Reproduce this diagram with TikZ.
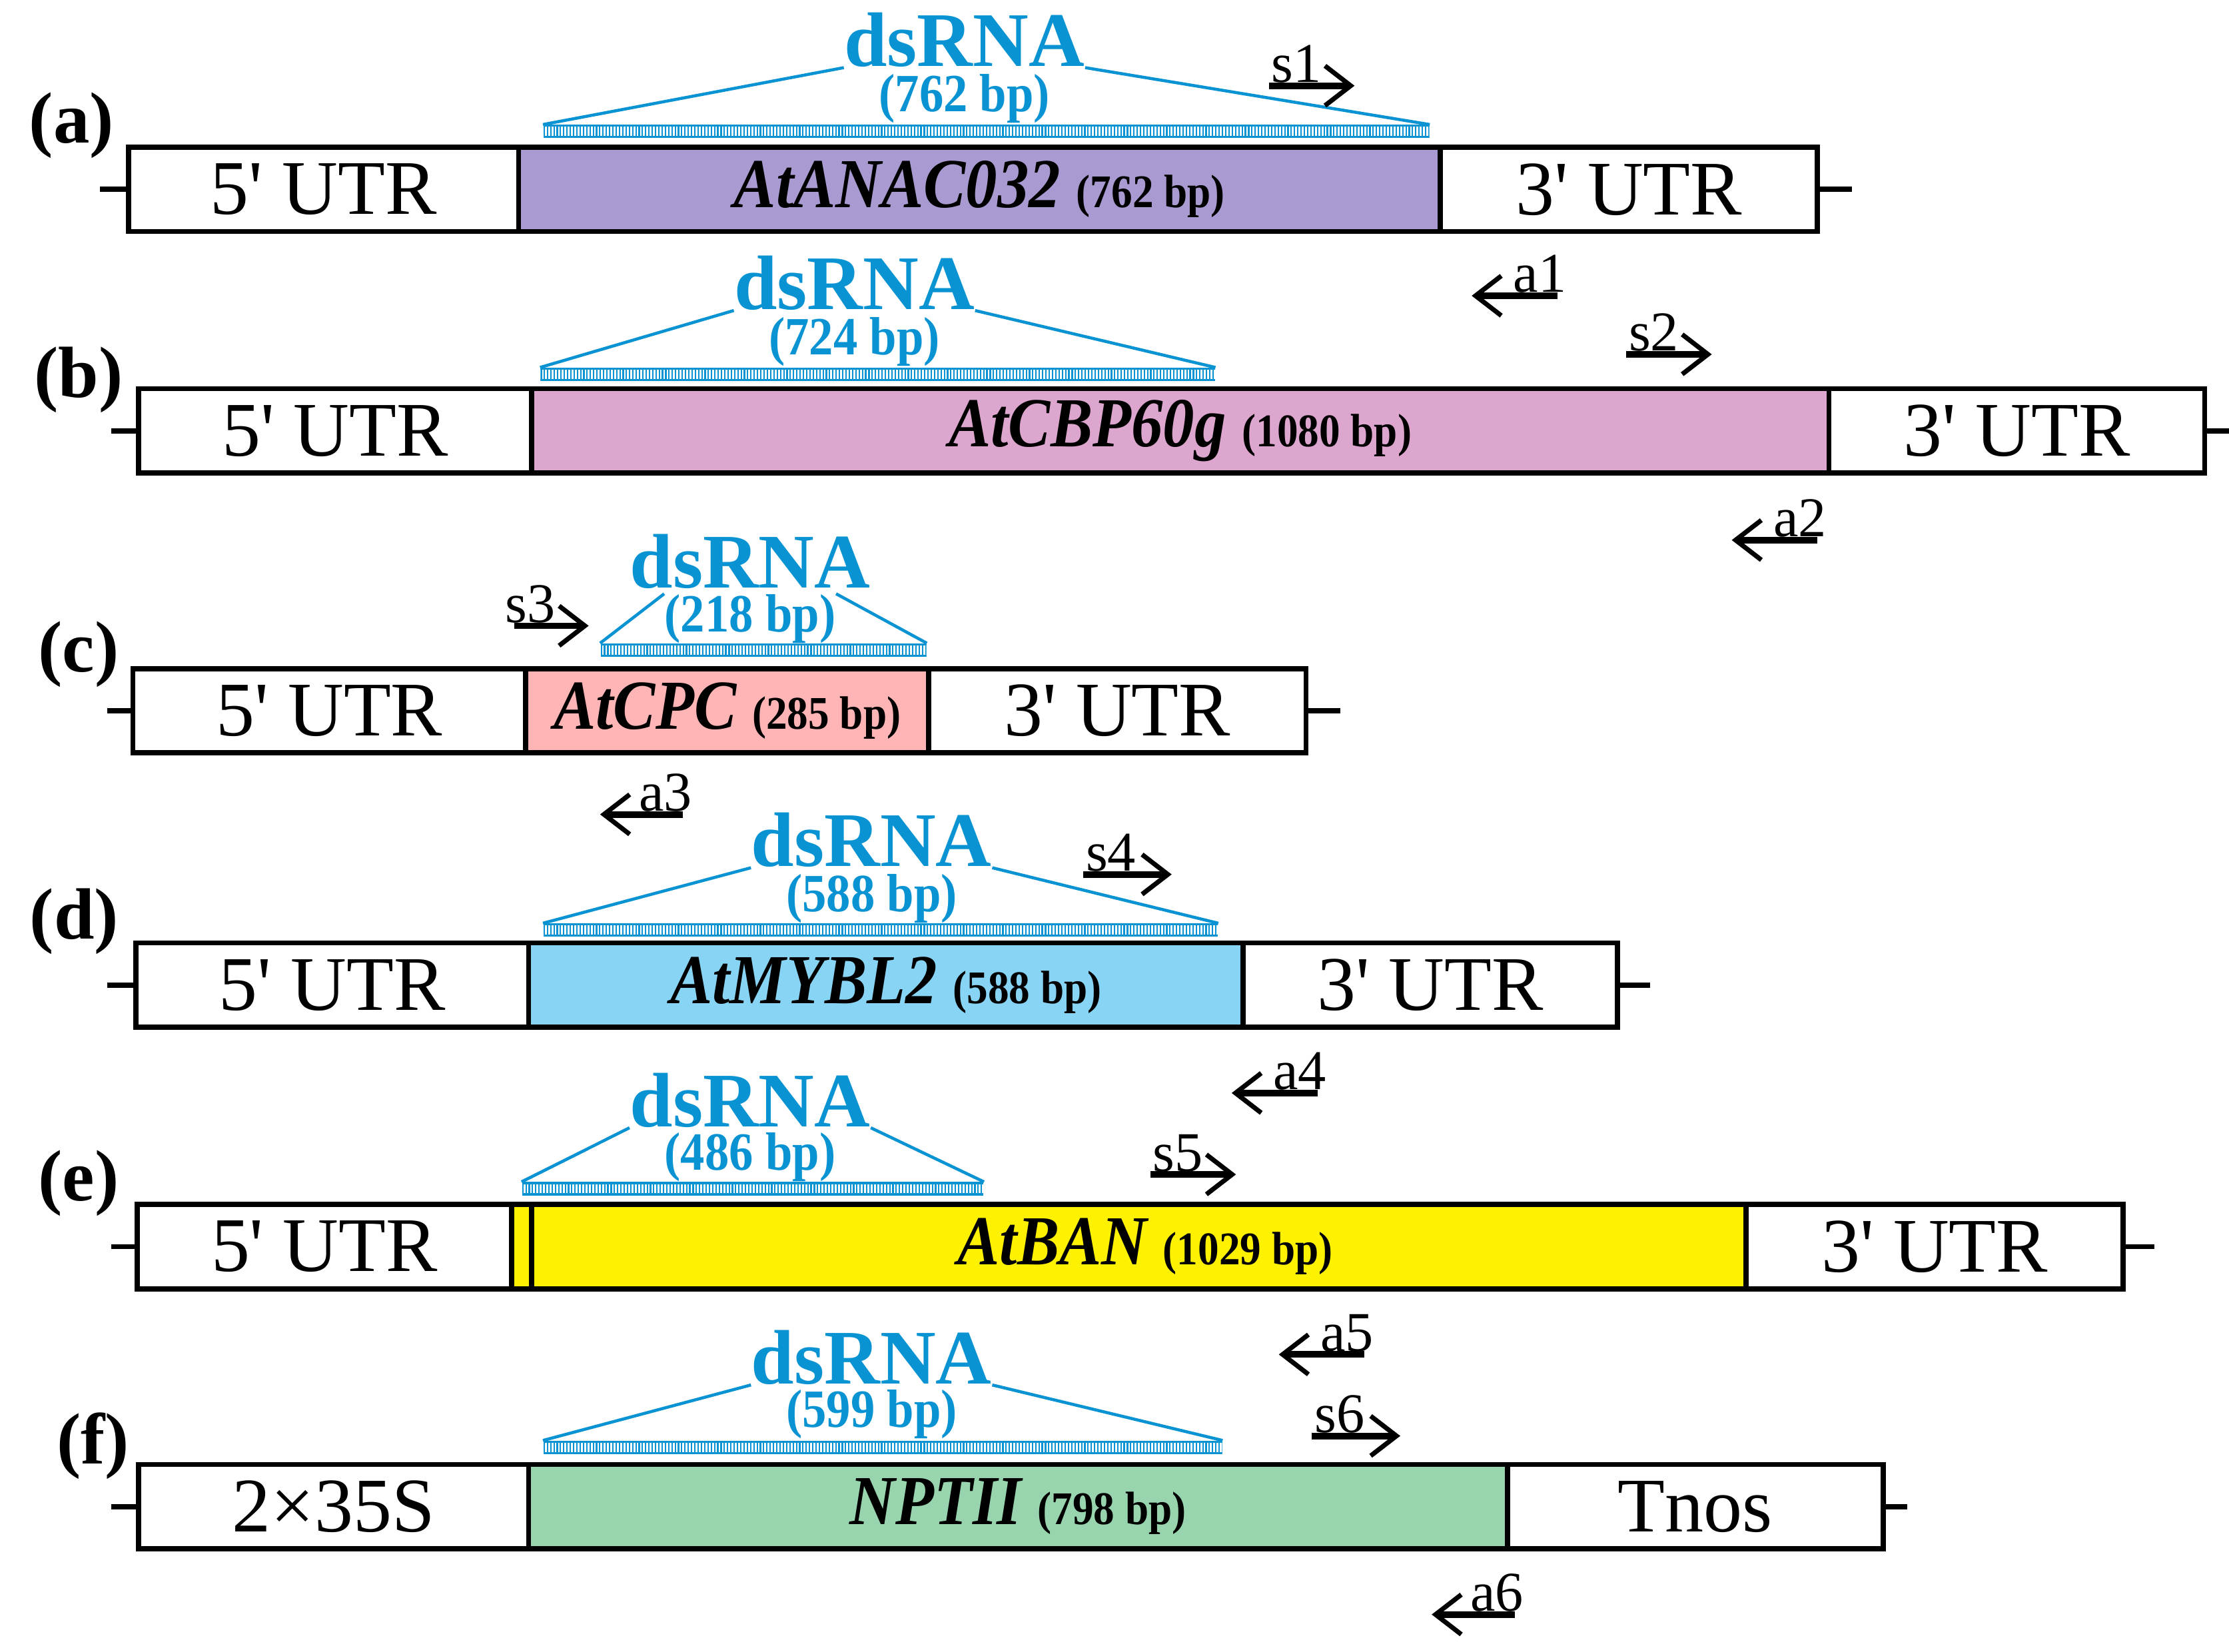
\documentclass[tikz,border=0pt]{standalone}
\usepackage{fontspec}
\setmainfont{Liberation Serif}
\newfontfamily\narrowserif{Liberation Serif}[FakeStretch=0.9]
\usepackage{tikz}
\usetikzlibrary{positioning, arrows.meta}
\newcommand{\px}{0.02145cm}
\newcommand{\bpfont}{\fontsize{20}{24}\selectfont\bfseries\upshape}
\definecolor{dsblue}{HTML}{0A93D2}
\definecolor{cA}{HTML}{A99BD1}
\definecolor{cB}{HTML}{DCA6CF}
\definecolor{cC}{HTML}{FFB5B5}
\definecolor{cD}{HTML}{88D4F4}
\definecolor{cE}{HTML}{FFF200}
\definecolor{cF}{HTML}{98D5AF}

\begin{document}
\begin{tikzpicture}[x=\px, y=-\px,
        seg/.style={rectangle, draw=black, line width=2.2pt, fill=white, minimum height=59*\px, inner sep=0pt, outer sep=0pt, font=\fontsize{33}{36}\selectfont},
        gene/.style={seg, font=\narrowserif\fontsize{30}{33}\selectfont\bfseries\itshape},
        ladder/.style={rectangle, minimum height=9*\px, inner sep=0pt, path picture={
            \draw[dsblue, line width=1.6pt] (path picture bounding box.north west) -- (path picture bounding box.north east)
                (path picture bounding box.south west) -- (path picture bounding box.south east);
            \draw[dsblue, line width=6pt, dash pattern=on 0.6pt off 0.8pt] (path picture bounding box.west) -- (path picture bounding box.east);}},
        dstxt/.style={text=dsblue, inner sep=0pt, font=\fontsize{33}{36}\selectfont\bfseries},
        bptxt/.style={text=dsblue, inner sep=0pt, font=\narrowserif\fontsize{23}{26}\selectfont\bfseries},
        dsline/.style={draw=dsblue, line width=1.3pt},
        tick/.style={line width=2.2pt},
        primer/.style={line width=2.8pt, -{Straight Barb[length=11pt, width=17pt, line width=2pt]}},
        plbl/.style={inner sep=1pt, font=\fontsize{24}{26}\selectfont},
        panel/.style={inner sep=0pt, font=\fontsize{31}{33}\selectfont\bfseries},
    ]
    \useasboundingbox (0,0) rectangle (1560,1156);

    % (a)
    \node[panel] (pa) at (50,88) {(a)};
    \node[seg, minimum width=273*\px, anchor=north west] (a5) at (90,103) {5\textquotesingle{} UTR};
    \node[gene, fill=cA, minimum width=645*\px, right=0pt of a5] (ag) {AtANAC032 {\bpfont (762 bp)}};
    \node[seg, minimum width=264*\px, right=0pt of ag] (a3) {3\textquotesingle{} UTR};
    \draw[tick] (a5.west) -- ++(-20,0);
    \draw[tick] (a3.east) -- ++(24,0);
    \node[ladder, minimum width=620*\px, anchor=west] (dsa) at (380,92) {};
    \node[dstxt] (tda) at (675,28) {dsRNA};
    \node[bptxt] (bpa) at (675,69) {(762 bp)};
    \draw[dsline] (dsa.north west) -- (tda.south west);
    \draw[dsline] (dsa.north east) -- (tda.south east);
    \coordinate (s1) at (888,60);
    \draw[primer] (s1) -- ++(60,0);
    \node[plbl, anchor=south west] at (s1) {s1};
    \coordinate (a1) at (1090,207);
    \draw[primer] (a1) -- ++(-60,0);
    \node[plbl, anchor=south east, xshift=5pt] at (a1) {a1};

    % (b)
    \node[panel] (pb) at (55,266) {(b)};
    \node[seg, minimum width=275*\px, anchor=north west] (b5) at (97,272) {5\textquotesingle{} UTR};
    \node[gene, fill=cB, minimum width=908*\px, right=0pt of b5] (bg) {AtCBP60g {\bpfont (1080 bp)}};
    \node[seg, minimum width=263*\px, right=0pt of bg] (b3) {3\textquotesingle{} UTR};
    \draw[tick] (b5.west) -- ++(-19,0);
    \draw[tick] (b3.east) -- ++(17,0);
    \node[ladder, minimum width=472*\px, anchor=west] (dsb) at (378,262) {};
    \node[dstxt] (tdb) at (598,198) {dsRNA};
    \node[bptxt] (bpb) at (598,239) {(724 bp)};
    \draw[dsline] (dsb.north west) -- (tdb.south west);
    \draw[dsline] (dsb.north east) -- (tdb.south east);
    \coordinate (s2) at (1138,248);
    \draw[primer] (s2) -- ++(60,0);
    \node[plbl, anchor=south west] at (s2) {s2};
    \coordinate (a2) at (1272,378);
    \draw[primer] (a2) -- ++(-60,0);
    \node[plbl, anchor=south east, xshift=5pt] at (a2) {a2};

    % (c)
    \node[panel] (pc) at (55,458) {(c)};
    \node[seg, minimum width=275*\px, anchor=north west] (c5) at (93,468) {5\textquotesingle{} UTR};
    \node[gene, fill=cC, minimum width=282*\px, right=0pt of c5] (cg) {AtCPC {\bpfont (285 bp)}};
    \node[seg, minimum width=264*\px, right=0pt of cg] (c3) {3\textquotesingle{} UTR};
    \draw[tick] (c5.west) -- ++(-18,0);
    \draw[tick] (c3.east) -- ++(24,0);
    \node[ladder, minimum width=228*\px, anchor=west] (dsc) at (420,455) {};
    \node[dstxt] (tdc) at (525,393) {dsRNA};
    \node[bptxt] (bpc) at (525,433) {(218 bp)};
    \draw[dsline] (dsc.north west) -- (bpc.north west);
    \draw[dsline] (dsc.north east) -- (bpc.north east);
    \coordinate (s3) at (360,438);
    \draw[primer] (s3) -- ++(52,0);
    \node[plbl, anchor=south west, xshift=-5pt] at (s3) {s3};
    \coordinate (a3) at (478,570);
    \draw[primer] (a3) -- ++(-58,0);
    \node[plbl, anchor=south east, xshift=5pt] at (a3) {a3};

    % (d)
    \node[panel] (pd) at (52,645) {(d)};
    \node[seg, minimum width=275*\px, anchor=north west] (d5) at (95,660) {5\textquotesingle{} UTR};
    \node[gene, fill=cD, minimum width=500*\px, right=0pt of d5] (dg) {AtMYBL2 {\bpfont (588 bp)}};
    \node[seg, minimum width=262*\px, right=0pt of dg] (d3) {3\textquotesingle{} UTR};
    \draw[tick] (d5.west) -- ++(-20,0);
    \draw[tick] (d3.east) -- ++(23,0);
    \node[ladder, minimum width=472*\px, anchor=west] (dsd) at (380,651) {};
    \node[dstxt] (tdd) at (610,588) {dsRNA};
    \node[bptxt] (bpd) at (610,629) {(588 bp)};
    \draw[dsline] (dsd.north west) -- (tdd.south west);
    \draw[dsline] (dsd.north east) -- (tdd.south east);
    \coordinate (s4) at (758,612);
    \draw[primer] (s4) -- ++(62,0);
    \node[plbl, anchor=south west] at (s4) {s4};
    \coordinate (a4) at (922,765);
    \draw[primer] (a4) -- ++(-60,0);
    \node[plbl, anchor=south east, xshift=5pt] at (a4) {a4};

    % (e)
    \node[panel] (pe) at (55,828) {(e)};
    \node[seg, minimum width=262*\px, anchor=north west] (e5) at (96,843) {5\textquotesingle{} UTR};
    \node[gene, fill=cE, minimum width=864*\px, right=0pt of e5] (eg) {\hspace{14pt}AtBAN {\bpfont (1029 bp)}};
    \node[seg, minimum width=264*\px, right=0pt of eg] (e3) {3\textquotesingle{} UTR};
    \draw[tick] (e5.west) -- ++(-18,0);
    \draw[tick] (e3.east) -- ++(22,0);
    \draw[tick] ([xshift=14*\px]eg.north west) -- ([xshift=14*\px]eg.south west);
    \node[ladder, minimum width=323*\px, anchor=west] (dse) at (365,832) {};
    \node[dstxt] (tde) at (525,770) {dsRNA};
    \node[bptxt] (bpe) at (525,810) {(486 bp)};
    \draw[dsline] (dse.north west) -- (tde.south west);
    \draw[dsline] (dse.north east) -- (tde.south east);
    \coordinate (s5) at (805,822);
    \draw[primer] (s5) -- ++(60,0);
    \node[plbl, anchor=south west] at (s5) {s5};
    \coordinate (a5) at (955,948);
    \draw[primer] (a5) -- ++(-60,0);
    \node[plbl, anchor=south east, xshift=5pt] at (a5) {a5};

    % (f)
    \node[panel] (pf) at (65,1012) {(f)};
    \node[seg, minimum width=273*\px, anchor=north west] (f5) at (97,1025) {2×35S};
    \node[gene, fill=cF, minimum width=685*\px, right=0pt of f5] (fg) {NPTII {\bpfont (798 bp)}};
    \node[seg, minimum width=263*\px, right=0pt of fg] (f3) {Tnos};
    \draw[tick] (f5.west) -- ++(-19,0);
    \draw[tick] (f3.east) -- ++(17,0);
    \node[ladder, minimum width=475*\px, anchor=west] (dsf) at (380,1013) {};
    \node[dstxt] (tdf) at (610,950) {dsRNA};
    \node[bptxt] (bpf) at (610,990) {(599 bp)};
    \draw[dsline] (dsf.north west) -- (tdf.south west);
    \draw[dsline] (dsf.north east) -- (tdf.south east);
    \coordinate (s6) at (918,1005);
    \draw[primer] (s6) -- ++(62,0);
    \node[plbl, anchor=south west] at (s6) {s6};
    \coordinate (a6) at (1060,1130);
    \draw[primer] (a6) -- ++(-58,0);
    \node[plbl, anchor=south east, xshift=5pt] at (a6) {a6};
\end{tikzpicture}
\end{document}
